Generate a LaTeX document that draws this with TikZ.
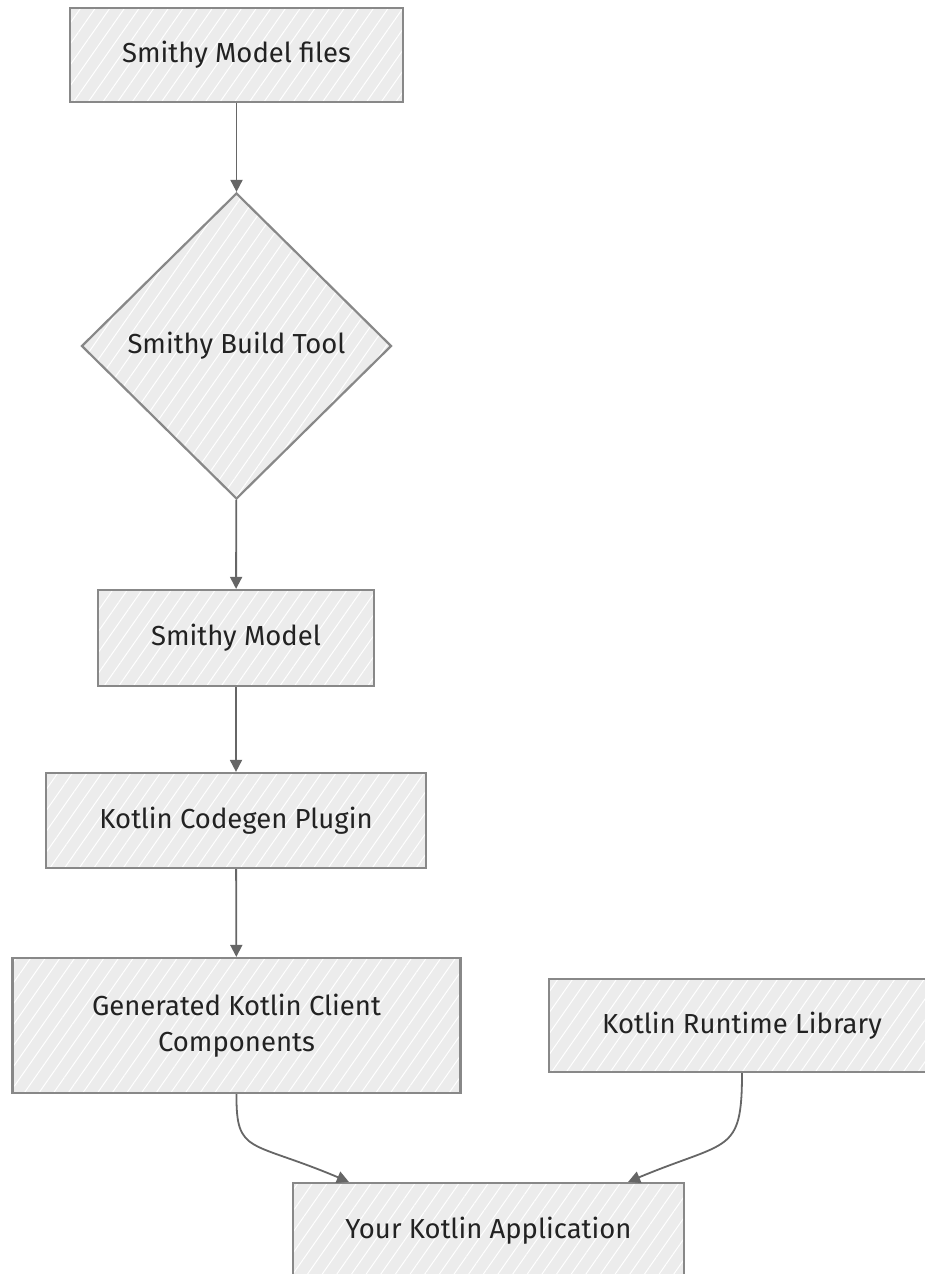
\documentclass[tikz,border=0pt]{standalone}
\usepackage{fontspec}
\setmainfont{Fira Sans}
\usetikzlibrary{shapes.geometric,arrows.meta,patterns.meta,calc}
\definecolor{boxfill}{HTML}{ECECEC}
\definecolor{boxline}{HTML}{888888}
\definecolor{edgecol}{HTML}{666666}
\definecolor{txt}{HTML}{222222}
\tikzset{
  sketch/.style={draw=boxline, line width=2.2pt,
    preaction={fill=boxfill},
    preaction={pattern={Lines[angle=55,distance=12pt,line width=1pt]}, pattern color=white},
    text=txt, font=\fontsize{27.5}{36}\selectfont, inner sep=0pt, align=center},
  boxnode/.style={sketch, rectangle},
  decision/.style={sketch, diamond, aspect=1},
  edge/.style={draw=edgecol, line width=1.8pt, -{Triangle[length=12pt,width=12pt]}}
}
\begin{document}
\begin{tikzpicture}[x=1pt,y=-1pt]
\useasboundingbox (0,0) rectangle (925,1274);
\clip (0,0) rectangle (925,1274);
\node[boxnode, minimum width=333pt, minimum height=94pt] (files) at (236.5,55) {Smithy Model files};
\node[decision, minimum width=310pt, minimum height=306pt] (build) at (236.5,346) {Smithy Build Tool};
\node[boxnode, minimum width=276pt, minimum height=96pt] (model) at (236,638) {Smithy Model};
\node[boxnode, minimum width=380pt, minimum height=95pt] (plugin) at (236,820.5) {Kotlin Codegen Plugin};
\node[boxnode, minimum width=448pt, minimum height=135pt] (gen) at (236.5,1025.5) {Generated Kotlin Client\\Components};
\node[boxnode, minimum width=386pt, minimum height=93pt] (rt) at (742,1025.5) {Kotlin Runtime Library};
\node[boxnode, minimum width=391pt, minimum height=95pt] (app) at (488.5,1230.5) {Your Kotlin Application};
\coordinate (appL) at ($(app.north west)+(57,0)$);
\coordinate (appR) at ($(app.north east)+(-57,0)$);
\draw[edge] (files) -- (build);
\draw[edge] (build) -- (model);
\draw[edge] (model) -- (plugin);
\draw[edge] (plugin) -- (gen);
\draw[edge] (gen.south) .. controls (236,1155) and (250,1140) .. (appL);
\draw[edge] (rt.south) .. controls (742,1155) and (728,1140) .. (appR);
\end{tikzpicture}
\end{document}
